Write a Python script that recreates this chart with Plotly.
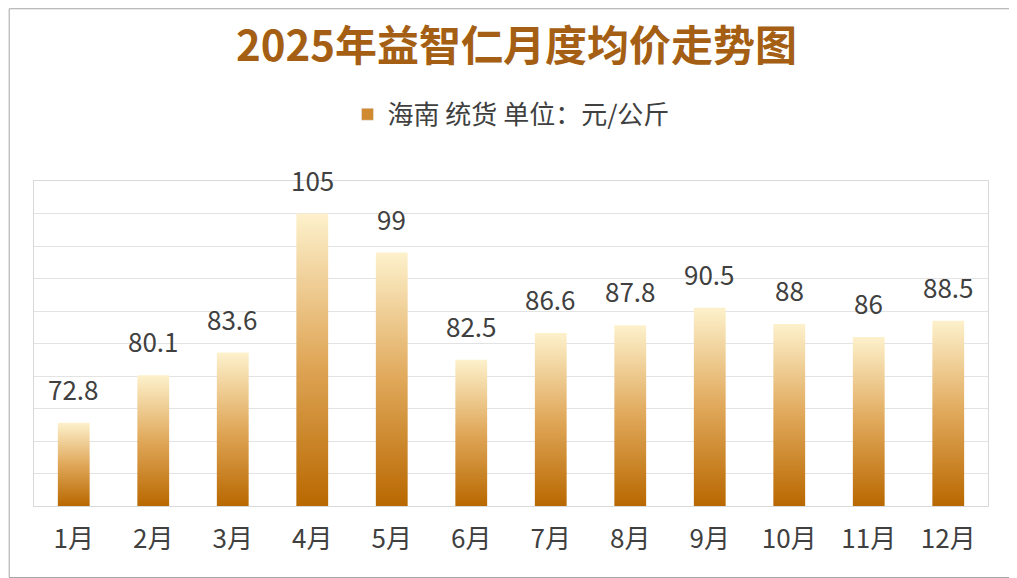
import plotly.graph_objects as go

months = ['1月', '2月', '3月', '4月', '5月', '6月', '7月', '8月', '9月', '10月', '11月', '12月']
prices = [72.8, 80.1, 83.6, 105, 99, 82.5, 86.6, 87.8, 90.5, 88, 86, 88.5]
y_floor = 60
series_name = '海南 统货 单位：元/公斤'

grad = [[0, '#b96800'], [0.5, '#e0a85a'], [1, '#fdf1cc']]
half = 0.2

fig = go.Figure()
for i, v in enumerate(prices):
    fig.add_trace(go.Scatter(
        x=[i - half, i + half, i + half, i - half, i - half],
        y=[y_floor, y_floor, v, v, y_floor],
        mode='lines', fill='toself', line=dict(width=0),
        fillgradient=dict(type='vertical', colorscale=grad),
        showlegend=False, hoverinfo='skip'
    ))
    fig.add_annotation(x=i, y=v, text=f'{v:g}', showarrow=False,
                       yanchor='bottom', yshift=14,
                       font=dict(size=26, color='#404040'))

# legend entry only (square swatch)
fig.add_trace(go.Bar(x=[None], y=[None], name=series_name,
                     marker=dict(color='#d08a30')))

fig.update_layout(
    width=1017, height=578,
    paper_bgcolor='white', plot_bgcolor='white',
    font=dict(family='Noto Sans CJK SC', color='#404040'),
    title=dict(text='<b>2025年益智仁月度均价走势图</b>', x=0.5, y=0.934,
               xanchor='center', yanchor='middle',
               font=dict(size=42, color='#a45f14')),
    legend=dict(orientation='h', x=0.5, xanchor='center', y=1.205, yanchor='middle',
                font=dict(size=26, color='#404040'), itemwidth=30),
    margin=dict(l=26, r=37, t=173, b=80),
    xaxis=dict(range=[-0.5, 11.5], tickvals=list(range(12)), ticktext=months,
               tickfont=dict(size=26, color='#404040'), showgrid=False,
               zeroline=False, showline=True, linecolor='#d9d9d9', mirror=True,
               fixedrange=True, ticklabelstandoff=10),
    yaxis=dict(range=[60, 110], dtick=5, showticklabels=False, gridcolor='#e3e3e3',
               zeroline=False, showline=True, linecolor='#d9d9d9', mirror=True),
    shapes=[dict(type='rect', xref='paper', yref='paper', x0=-0.026, x1=1.03,
                 y0=-0.22, y1=1.53, line=dict(color='#a6a6a6', width=1))]
)

fig.write_html('out.html')
